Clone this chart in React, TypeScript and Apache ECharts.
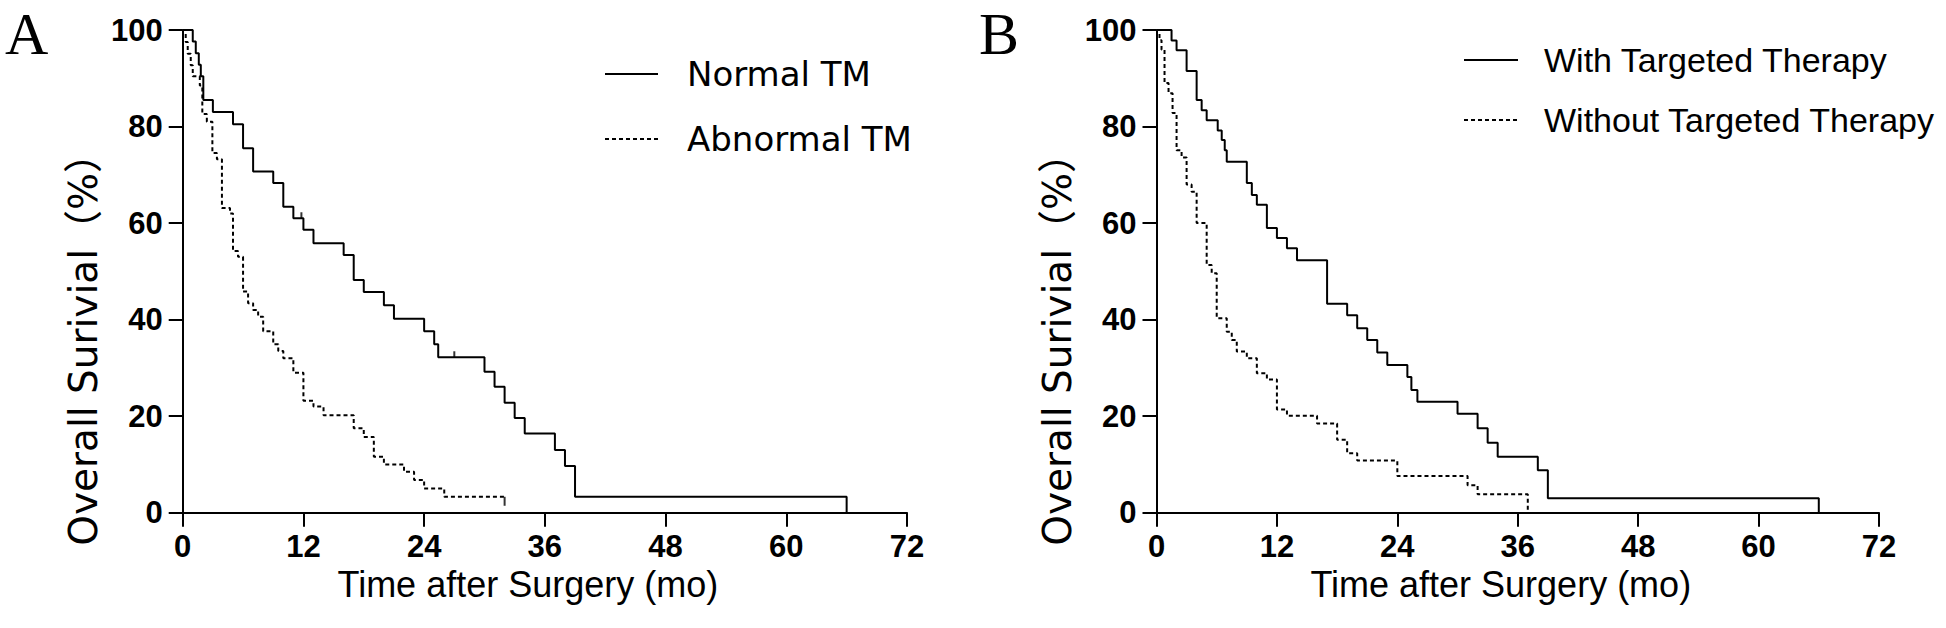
import React, { useEffect, useRef } from "react";
import * as echarts from "echarts";

// ---------- Data ----------
const xTicks = [0, 12, 24, 36, 48, 60, 72];
const yTicks = [0, 20, 40, 60, 80, 100];

// Panel A
const normalTmTime = [0, 1.0, 1.3, 1.6, 1.8, 2.05, 3.0, 5.0, 6.0, 7.0, 9.0, 10.0, 11.0, 12.0, 13.0, 16.0, 17.0, 18.0, 20.0, 21.0, 24.0, 25.0, 25.4, 30.0, 31.0, 32.0, 33.0, 34.0, 37.0, 38.0, 39.0, 66.0];
const normalTmSurv = [100, 97.6, 95.2, 92.8, 90.4, 85.5, 83.0, 80.5, 75.5, 70.7, 68.3, 63.4, 61.0, 58.6, 55.8, 53.4, 48.2, 45.7, 43.0, 40.2, 37.6, 34.9, 32.2, 29.2, 26.1, 22.8, 19.6, 16.4, 13.0, 9.7, 3.3, 0];
const normalTmCensorTime = [11.8, 27.0];
const normalTmCensorSurv = [61.0, 32.2];

const abnormalTmTime = [0, 0.3, 0.5, 0.8, 1.0, 1.7, 1.95, 2.4, 2.95, 3.4, 3.9, 4.7, 5.0, 5.5, 6.0, 6.5, 7.0, 7.5, 8.0, 9.0, 9.5, 10.0, 11.0, 12.0, 13.0, 14.0, 17.0, 18.0, 19.0, 20.0, 22.0, 23.0, 24.0, 26.0, 32.0];
const abnormalTmSurv = [100, 97.5, 95.1, 92.7, 90.4, 88.5, 82.6, 81.0, 74.5, 73.2, 63.1, 62.0, 54.2, 53.0, 45.8, 43.4, 42.0, 40.6, 37.6, 34.9, 33.5, 32.0, 29.0, 23.2, 22.0, 20.2, 17.5, 15.7, 11.6, 10.0, 8.5, 6.8, 5.0, 3.3, 3.3];
const abnormalTmCensorTime = [32.0];
const abnormalTmCensorSurv = [3.3];

// Panel B
const withTtTime = [0, 1.5, 2.0, 3.0, 4.0, 4.5, 5.0, 6.1, 6.5, 6.8, 7.0, 9.0, 9.5, 10.0, 11.0, 12.0, 13.0, 14.0, 17.0, 19.0, 20.0, 21.0, 22.0, 23.0, 25.0, 25.4, 26.0, 30.0, 32.0, 33.0, 34.0, 38.0, 39.0, 66.0];
const withTtSurv = [100, 97.8, 95.8, 91.5, 85.5, 83.4, 81.3, 79.2, 77.2, 75.1, 72.7, 68.3, 65.8, 63.8, 59.0, 56.9, 54.8, 52.3, 43.3, 40.9, 38.2, 35.8, 33.2, 30.6, 28.1, 25.4, 23.0, 20.5, 17.5, 14.5, 11.6, 8.8, 3.0, 0];

const withoutTtTime = [0, 0.3, 0.5, 0.8, 1.2, 1.6, 2.0, 2.5, 3.0, 3.5, 4.0, 5.0, 5.5, 6.0, 7.0, 7.5, 8.0, 9.0, 10.0, 11.0, 12.0, 13.0, 16.0, 18.0, 19.0, 20.0, 24.0, 31.0, 32.0, 37.0];
const withoutTtSurv = [100, 97.9, 95.9, 89.0, 86.9, 82.8, 75.1, 73.6, 68.0, 66.5, 60.0, 51.3, 49.6, 40.3, 37.5, 35.8, 33.4, 32.0, 28.9, 27.6, 21.4, 20.1, 18.5, 15.1, 12.3, 10.8, 7.6, 5.7, 3.8, 0];

const labelsA = { legend: ["Normal TM", "Abnormal TM"], letter: "A" };
const labelsB = { legend: ["With Targeted Therapy", "Without Targeted Therapy"], letter: "B" };
const xTitle = "Time after Surgery (mo)";
const yTitle = "Overall Surivial（%）";

const zip = (xs: number[], ys: number[]) => xs.map((x, i) => [x, ys[i]]);

const FONT = "'Liberation Sans', Arial, 'Noto Sans CJK SC', sans-serif";
const WIDE = "'DejaVu Sans', 'Noto Sans CJK SC', 'Liberation Sans', sans-serif";
const SERIF = "'Liberation Serif', 'Times New Roman', serif";

export default function App() {
  const ref = useRef<HTMLDivElement>(null);

  useEffect(() => {
    if (!ref.current) return;
    const chart = echarts.init(ref.current, undefined, { renderer: "svg" });

    const grids = [
      { left: 182.7, top: 30, width: 724.3, height: 482.7 },
      { left: 1156.5, top: 30, width: 722.5, height: 482.7 },
    ];

    const axisCommon = {
      axisLine: { show: true, onZero: false, lineStyle: { color: "#000", width: 2 } },
      axisTick: { show: true, inside: false, length: 14, lineStyle: { color: "#000", width: 2 } },
      splitLine: { show: false },
    };

    const xAxes = [0, 1].map((g) => ({
      type: "value",
      gridIndex: g,
      min: 0,
      max: 72,
      interval: 12,
      ...axisCommon,
      axisLabel: {
        color: "#000",
        fontSize: 31,
        fontWeight: "bold",
        fontFamily: FONT,
        margin: 18,
        formatter: (v: number) => (xTicks.includes(v) ? String(v) : ""),
      },
      name: xTitle,
      nameLocation: "middle",
      nameGap: 52,
      nameTextStyle: { color: "#000", fontSize: 36, fontFamily: FONT, padding: [0, 34, 0, 0] },
    }));

    const yAxes = [0, 1].map((g) => ({
      type: "value",
      gridIndex: g,
      min: 0,
      max: 100,
      interval: 20,
      ...axisCommon,
      axisLabel: {
        color: "#000",
        fontSize: 31,
        fontWeight: "bold",
        fontFamily: FONT,
        margin: 20,
        formatter: (v: number) => (yTicks.includes(v) ? String(v) : ""),
      },
      name: yTitle,
      nameLocation: "middle",
      nameGap: 80,
      nameRotate: 90,
      nameTextStyle: { color: "#000", fontSize: 39, fontFamily: WIDE, padding: [0, 137, 0, 0] },
    }));

    const solid = { color: "#000", width: 2, type: "solid" };
    const dashed = { color: "#000", width: 2, type: [4, 3] };

    const stepLine = (name: string, data: number[][], g: number, ls: any) => ({
      name,
      type: "line",
      step: "end",
      xAxisIndex: g,
      yAxisIndex: g,
      data,
      symbol: "none",
      lineStyle: ls,
      itemStyle: { color: "#000" },
      silent: true,
    });

    const censor = (data: number[][], g: number, size: number[], offset: number[]) => ({
      type: "scatter",
      xAxisIndex: g,
      yAxisIndex: g,
      data,
      symbol: "rect",
      symbolSize: size,
      symbolOffset: offset,
      itemStyle: { color: "#000" },
      silent: true,
    });

    const letterStyle = { fontFamily: SERIF, fontSize: 60, lineHeight: 68, fontWeight: "normal", color: "#000" };

    chart.setOption({
      animation: false,
      backgroundColor: "#fff",
      grid: grids,
      xAxis: xAxes,
      yAxis: yAxes,
      title: [
        { text: labelsA.letter, left: 5, top: 0, padding: 0, textStyle: letterStyle },
        { text: labelsB.letter, left: 979, top: 0, padding: 0, textStyle: letterStyle },
      ],
      legend: [
        {
          data: labelsA.legend,
          orient: "vertical",
          left: 599,
          top: 48,
          itemWidth: 53,
          itemHeight: 14,
          itemGap: 23,
          itemStyle: { opacity: 0 },
          textStyle: { color: "#000", fontSize: 34, fontFamily: WIDE, lineHeight: 42, padding: [0, 0, 0, 24] },
          selectedMode: false,
        },
        {
          data: labelsB.legend,
          orient: "vertical",
          left: 1458,
          top: 35,
          itemWidth: 54,
          itemHeight: 14,
          itemGap: 20,
          itemStyle: { opacity: 0 },
          textStyle: { color: "#000", fontSize: 34, fontFamily: FONT, lineHeight: 40, padding: [0, 0, 0, 21] },
          selectedMode: false,
        },
      ],
      series: [
        stepLine(labelsA.legend[0], zip(normalTmTime, normalTmSurv), 0, solid),
        stepLine(labelsA.legend[1], zip(abnormalTmTime, abnormalTmSurv), 0, dashed),
        censor(zip(normalTmCensorTime, normalTmCensorSurv), 0, [2, 6], [0, -3]),
        censor(zip(abnormalTmCensorTime, abnormalTmCensorSurv), 0, [2, 9], [0, 4.5]),
        stepLine(labelsB.legend[0], zip(withTtTime, withTtSurv), 1, solid),
        stepLine(labelsB.legend[1], zip(withoutTtTime, withoutTtSurv), 1, dashed),
      ],
    });

    return () => chart.dispose();
  }, []);

  return (
    <div
      ref={ref}
      style={{ position: "fixed", left: 0, top: 0, width: 1946, height: 628, background: "#fff" }}
    />
  );
}
